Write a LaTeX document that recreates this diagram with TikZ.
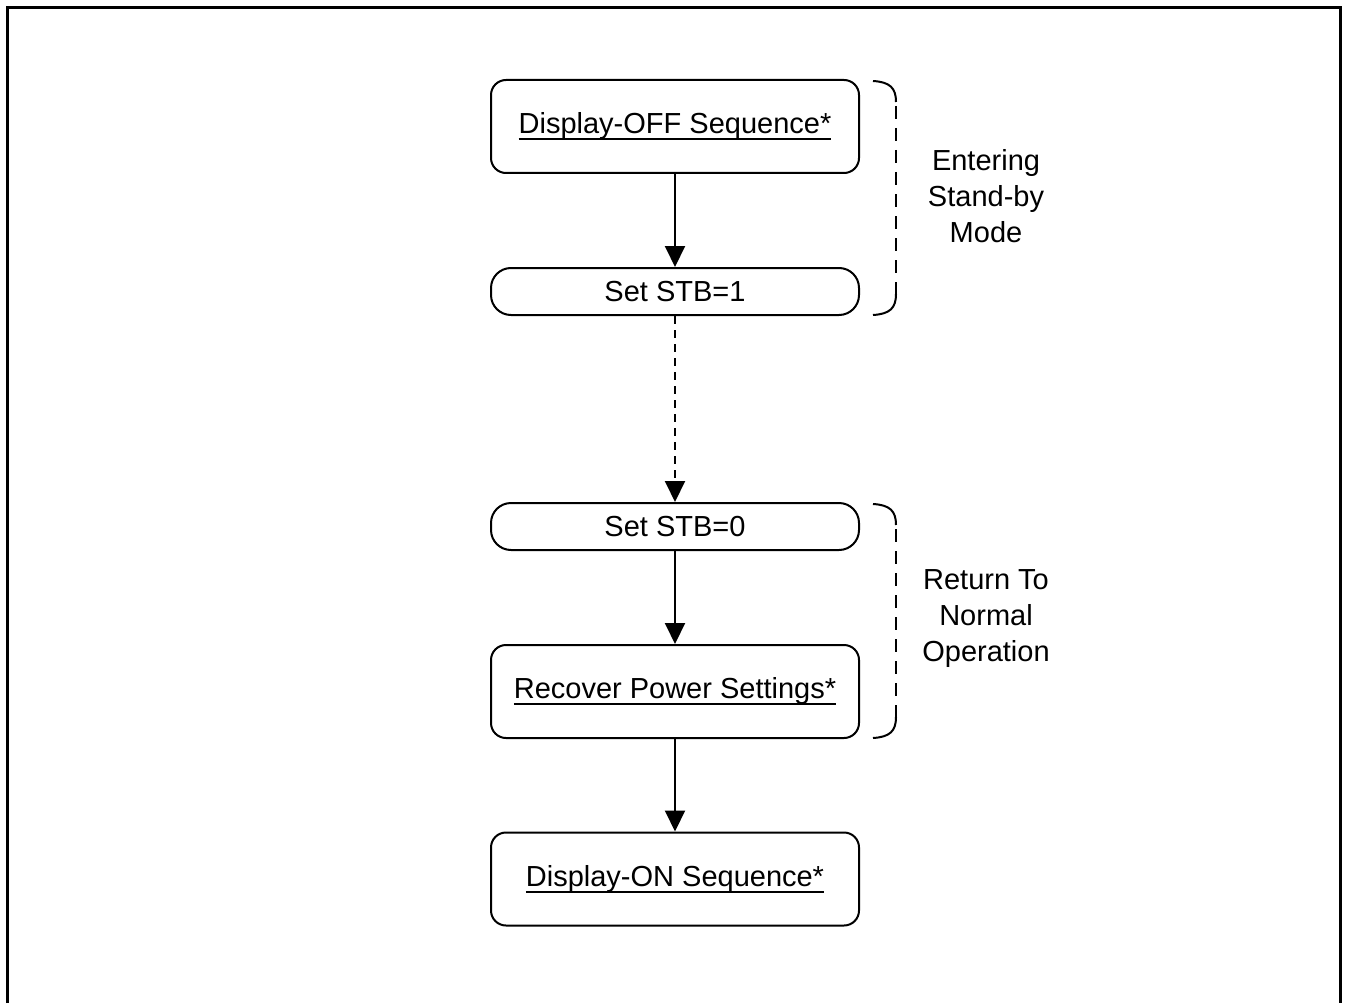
\documentclass[tikz,border=0pt]{standalone}
\usepackage{fontspec}
\setmainfont{Liberation Sans}
\usetikzlibrary{arrows.meta}
\newcommand\myul[1]{\setbox0\hbox{#1}\rlap{\rule[-6.5pt]{\wd0}{1.8pt}}\box0}
\begin{document}
\begin{tikzpicture}[x=1pt,y=-1pt,
  bigbox/.style={draw,line width=2pt,rounded corners=15pt,minimum width=368pt,minimum height=93pt,inner sep=0pt,font=\fontsize{29}{36}\selectfont},
  smallbox/.style={draw,line width=2pt,rounded corners=20pt,minimum width=368pt,minimum height=47pt,inner sep=0pt,font=\fontsize{29}{36}\selectfont},
  arr/.style={line width=2pt,-{Triangle[length=21pt,width=20pt]}},
  brk/.style={line width=2pt},
  lbl/.style={align=center,font=\fontsize{29}{36}\selectfont,inner sep=0pt}]
\useasboundingbox (0,0) rectangle (1348,1003);
\draw[line width=3pt] (7,1003) -- (7,8) -- (1340,8) -- (1340,1003);
\node[bigbox] (off) at (675,126.5) {\myul{Display-OFF Sequence*}};
\node[smallbox] (s1) at (675,291.5) {Set STB=1};
\node[smallbox] (s0) at (675,526.5) {Set STB=0};
\node[bigbox] (rec) at (675,691.5) {\myul{Recover Power Settings*}};
\node[bigbox] (on) at (675,879) {\myul{Display-ON Sequence*}};
\draw[arr] (off) -- (s1);
\draw[arr,dash pattern=on 8pt off 6pt] (s1) -- (s0);
\draw[arr] (s0) -- (rec);
\draw[arr] (rec) -- (on);
\coordinate (b1t) at (873,81);
\coordinate (b1u) at (896,102);
\coordinate (b1l) at (896,294);
\coordinate (b1b) at (873,315);
\coordinate (b2t) at (873,504);
\coordinate (b2u) at (896,525);
\coordinate (b2l) at (896,717);
\coordinate (b2b) at (873,738);
\draw[brk] (b1t) .. controls (890,82) and (896,88) .. (b1u);
\draw[brk,dash pattern=on 13pt off 9pt,dash phase=-4pt] (b1u) -- (b1l);
\draw[brk] (b1l) .. controls (896,308) and (890,314) .. (b1b);
\draw[brk] (b2t) .. controls (890,505) and (896,511) .. (b2u);
\draw[brk,dash pattern=on 13pt off 9pt,dash phase=-4pt] (b2u) -- (b2l);
\draw[brk] (b2l) .. controls (896,731) and (890,737) .. (b2b);
\node[lbl] (l1) at (986,196) {Entering\\Stand-by\\Mode};
\node[lbl] (l2) at (986,619) {Return To\\Normal\\Operation};
\end{tikzpicture}
\end{document}
